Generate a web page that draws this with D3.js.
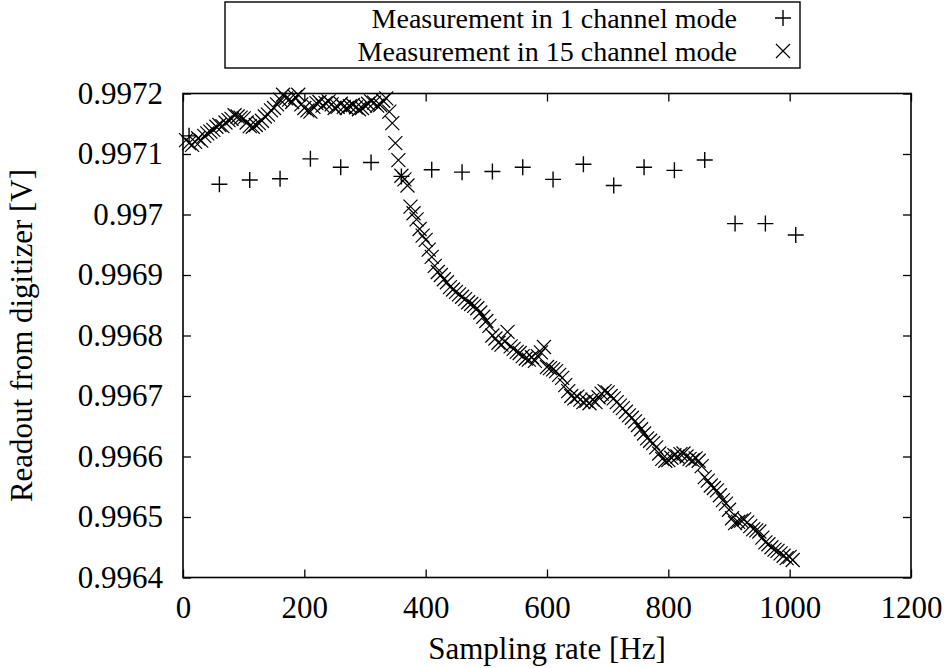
<!DOCTYPE html>
<html>
<head>
<meta charset="utf-8">
<script src="https://cdn.jsdelivr.net/npm/d3@7"></script>
<style>
  html, body { margin: 0; padding: 0; background: #fff; }
  svg { display: block; }
  svg text { font-family: "Liberation Serif", "DejaVu Serif", "Times New Roman", Times, serif; fill: #000; }
</style>
</head>
<body>
<svg id="chart" width="944" height="668"></svg>
<script>
// ---------------- data ----------------
const xTicks = [0, 200, 400, 600, 800, 1000, 1200];
const xTickLabels = ["0", "200", "400", "600", "800", "1000", "1200"];
const yTicks = [0.9964, 0.9965, 0.9966, 0.9967, 0.9968, 0.9969, 0.997, 0.9971, 0.9972];
const yTickLabels = ["0.9964", "0.9965", "0.9966", "0.9967", "0.9968", "0.9969", "0.997", "0.9971", "0.9972"];

const seriesNames = ["Measurement in 1 channel mode", "Measurement in 15 channel mode"];

// 1 channel mode
const rate1 = [10, 60, 110, 160, 210, 260, 310, 360, 410, 460, 510, 560, 610, 660, 710, 760, 810, 860, 910, 960, 1010];
const readout1 = [0.997130, 0.997050, 0.997057, 0.997059, 0.997092, 0.997078, 0.997086, 0.997063, 0.997074, 0.997070,
                  0.997071, 0.997078, 0.997058, 0.997083, 0.997048, 0.997078, 0.997073, 0.997090, 0.996985, 0.996985, 0.996966];

// 15 channel mode (sampled every 5 Hz, 5 .. 1005)
const rate15 = d3.range(5, 1006, 5);
const readout15 = [
  0.997123, 0.997118, 0.997115, 0.997120, 0.997126, 0.997122, 0.997130, 0.997134, 0.997137, 0.997140,
  0.997145, 0.997148, 0.997146, 0.997152, 0.997156, 0.997158, 0.997164, 0.997162, 0.997160, 0.997159,
  0.997152, 0.997146, 0.997145, 0.997148, 0.997151, 0.997155, 0.997162, 0.997165, 0.997172, 0.997176,
  0.997182, 0.997190, 0.997198, 0.997192, 0.997190, 0.997186, 0.997194, 0.997198, 0.997182, 0.997176,
  0.997172, 0.997170, 0.997178, 0.997184, 0.997186, 0.997180, 0.997184, 0.997187, 0.997182, 0.997176,
  0.997178, 0.997183, 0.997178, 0.997176, 0.997179, 0.997181, 0.997177, 0.997174, 0.997176, 0.997180,
  0.997183, 0.997187, 0.997185, 0.997180, 0.997181, 0.997188, 0.997192, 0.997170, 0.997151, 0.997118,
  0.997090, 0.997064, 0.997058, 0.997048, 0.997013, 0.997002, 0.996992, 0.996976, 0.996965, 0.996958,
  0.996942, 0.996930, 0.996915, 0.996905, 0.996900, 0.996893, 0.996888, 0.996880, 0.996876, 0.996872,
  0.996868, 0.996864, 0.996860, 0.996855, 0.996852, 0.996849, 0.996845, 0.996838, 0.996831, 0.996824,
  0.996816, 0.996800, 0.996795, 0.996788, 0.996785, 0.996790, 0.996806, 0.996782, 0.996778, 0.996773,
  0.996771, 0.996766, 0.996762, 0.996760, 0.996764, 0.996758, 0.996766, 0.996772, 0.996781, 0.996748,
  0.996746, 0.996744, 0.996741, 0.996735, 0.996730, 0.996718, 0.996708, 0.996700, 0.996696, 0.996699,
  0.996694, 0.996690, 0.996692, 0.996688, 0.996694, 0.996690, 0.996698, 0.996704, 0.996708, 0.996706,
  0.996700, 0.996696, 0.996690, 0.996684, 0.996680, 0.996674, 0.996668, 0.996664, 0.996658, 0.996652,
  0.996645, 0.996638, 0.996630, 0.996626, 0.996622, 0.996615, 0.996605, 0.996596, 0.996593, 0.996594,
  0.996598, 0.996602, 0.996600, 0.996604, 0.996605, 0.996600, 0.996596, 0.996594, 0.996597, 0.996593,
  0.996584, 0.996566, 0.996560, 0.996552, 0.996548, 0.996544, 0.996536, 0.996528, 0.996522, 0.996512,
  0.996498, 0.996490, 0.996492, 0.996494, 0.996496, 0.996491, 0.996485, 0.996480, 0.996478, 0.996476,
  0.996466, 0.996458, 0.996455, 0.996450, 0.996446, 0.996444, 0.996440, 0.996436, 0.996432, 0.996434,
  0.996429
];

// ---------------- layout ----------------
const FONT = "'Liberation Serif', 'DejaVu Serif', 'Times New Roman', Times, serif";
const svg = d3.select("#chart").style("font-family", FONT);
const L = 183, R = 911, T = 93.5, B = 577.5;
const x = d3.scaleLinear().domain([0, 1200]).range([L, R]);
const y = d3.scaleLinear().domain([0.9964, 0.9972]).range([B, T]);
const tickLen = 8;
const tickFont = 31;

const fmtX = d => xTickLabels[xTicks.indexOf(d)];
const fmtY = d => yTickLabels[yTicks.findIndex(v => Math.abs(v - d) < 1e-9)];

function styleAxis(g) {
  g.attr("font-family", null).style("font-family", FONT);
  g.select(".domain").remove();
  g.selectAll(".tick line").attr("stroke", "#000").attr("stroke-width", 1.3);
  g.selectAll(".tick text").attr("font-size", tickFont).style("font-family", FONT).attr("fill", "#000");
}

svg.append("g").attr("transform", `translate(0,${B})`)
  .call(d3.axisBottom(x).tickValues(xTicks).tickFormat(fmtX).tickSizeInner(-tickLen).tickSizeOuter(0).tickPadding(18))
  .call(styleAxis)
  .selectAll(".tick text").attr("dy", "0.71em");

svg.append("g").attr("transform", `translate(0,${T})`)
  .call(d3.axisTop(x).tickValues(xTicks).tickFormat("").tickSizeInner(-tickLen).tickSizeOuter(0))
  .call(styleAxis);

svg.append("g").attr("transform", `translate(${L},0)`)
  .call(d3.axisLeft(y).tickValues(yTicks).tickFormat(fmtY).tickSizeInner(-tickLen).tickSizeOuter(0).tickPadding(20))
  .call(styleAxis);

svg.append("g").attr("transform", `translate(${R},0)`)
  .call(d3.axisRight(y).tickValues(yTicks).tickFormat("").tickSizeInner(-tickLen).tickSizeOuter(0))
  .call(styleAxis);

// frame
svg.append("rect").attr("x", L).attr("y", T).attr("width", R - L).attr("height", B - T)
  .attr("fill", "none").attr("stroke", "#000").attr("stroke-width", 1.6);

// axis titles
svg.append("text").attr("x", (L + R) / 2).attr("y", 659).attr("text-anchor", "middle")
  .style("font-family", FONT).attr("font-size", 31).text("Sampling rate [Hz]");
svg.append("text").attr("transform", `translate(32,${(T + B) / 2}) rotate(-90)`).attr("text-anchor", "middle")
  .style("font-family", FONT).attr("font-size", 31).text("Readout from digitizer [V]");

// markers
const plusH = 8, crossH = 7;
function plusPath(cx, cy, h) { return `M${cx - h},${cy}H${cx + h}M${cx},${cy - h}V${cy + h}`; }
function crossPath(cx, cy, h) { return `M${cx - h},${cy - h}L${cx + h},${cy + h}M${cx - h},${cy + h}L${cx + h},${cy - h}`; }

const pts15 = rate15.map((r, i) => ({ r, v: readout15[i] }));
const pts1 = rate1.map((r, i) => ({ r, v: readout1[i] }));

svg.append("g").selectAll("path").data(pts15).join("path")
  .attr("d", d => crossPath(x(d.r), y(d.v), crossH))
  .attr("stroke", "#000").attr("stroke-width", 1.2).attr("fill", "none");

svg.append("g").selectAll("path").data(pts1).join("path")
  .attr("d", d => plusPath(x(d.r), y(d.v), plusH))
  .attr("stroke", "#000").attr("stroke-width", 1.4).attr("fill", "none");

// legend
const lg = svg.append("g");
lg.append("rect").attr("x", 225).attr("y", 2).attr("width", 575).attr("height", 66)
  .attr("fill", "#fff").attr("stroke", "#000").attr("stroke-width", 1.4);
const legY = [18, 51];
seriesNames.forEach((name, i) => {
  lg.append("text").attr("x", 737).attr("y", legY[i]).attr("dy", "0.35em").attr("text-anchor", "end")
    .style("font-family", FONT).attr("font-size", 28).text(name);
});
lg.append("path").attr("d", plusPath(783, legY[0], plusH)).attr("stroke", "#000").attr("stroke-width", 1.4);
lg.append("path").attr("d", crossPath(783, legY[1], crossH)).attr("stroke", "#000").attr("stroke-width", 1.2);
</script>
</body>
</html>
